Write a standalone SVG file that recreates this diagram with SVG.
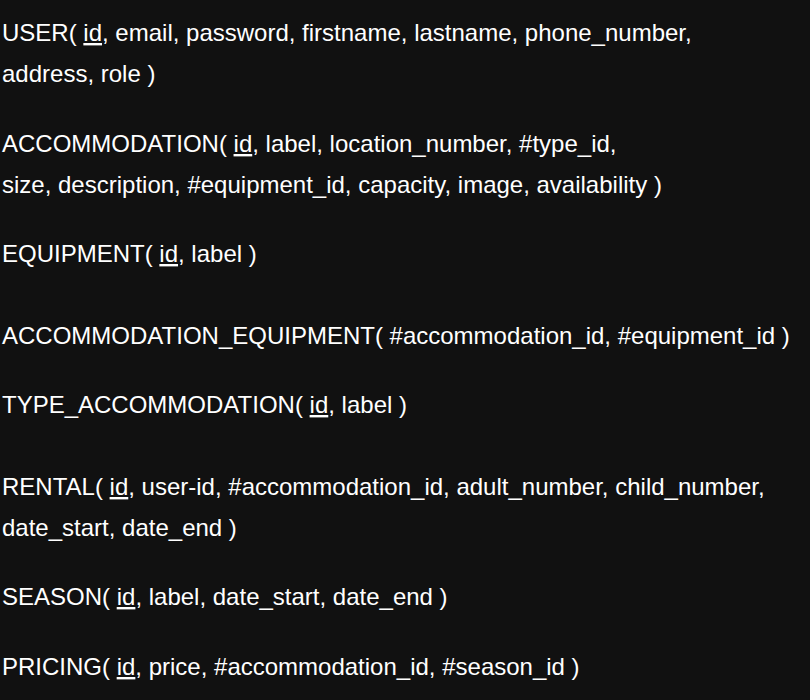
<svg xmlns="http://www.w3.org/2000/svg" width="810" height="700" viewBox="0 0 810 700">
  <style>
    text { font-family: "Liberation Sans", Arial, sans-serif; font-size: 24px; fill: #ffffff; }
    .pk { text-decoration: underline; }
  </style>
  <rect x="0" y="0" width="810" height="700" fill="#111111"/>
  <g id="user">
    <text x="2" y="41">USER( <tspan class="pk">id</tspan>, email, password, firstname, lastname, phone_number,</text>
    <text x="2" y="82">address, role )</text>
  </g>
  <g id="accommodation">
    <text x="2" y="152">ACCOMMODATION( <tspan class="pk">id</tspan>, label, location_number, #type_id,</text>
    <text x="2" y="193">size, description, #equipment_id, capacity, image, availability )</text>
  </g>
  <g id="equipment">
    <text x="2" y="262">EQUIPMENT( <tspan class="pk">id</tspan>, label )</text>
  </g>
  <g id="accommodation_equipment">
    <text x="2" y="344">ACCOMMODATION_EQUIPMENT( #accommodation_id, #equipment_id )</text>
  </g>
  <g id="type_accommodation">
    <text x="2" y="413">TYPE_ACCOMMODATION( <tspan class="pk">id</tspan>, label )</text>
  </g>
  <g id="rental">
    <text x="2" y="495">RENTAL( <tspan class="pk">id</tspan>, user-id, #accommodation_id, adult_number, child_number,</text>
    <text x="2" y="536">date_start, date_end )</text>
  </g>
  <g id="season">
    <text x="2" y="605">SEASON( <tspan class="pk">id</tspan>, label, date_start, date_end )</text>
  </g>
  <g id="pricing">
    <text x="2" y="675">PRICING( <tspan class="pk">id</tspan>, price, #accommodation_id, #season_id )</text>
  </g>
  <g id="connectors"/>
</svg>
